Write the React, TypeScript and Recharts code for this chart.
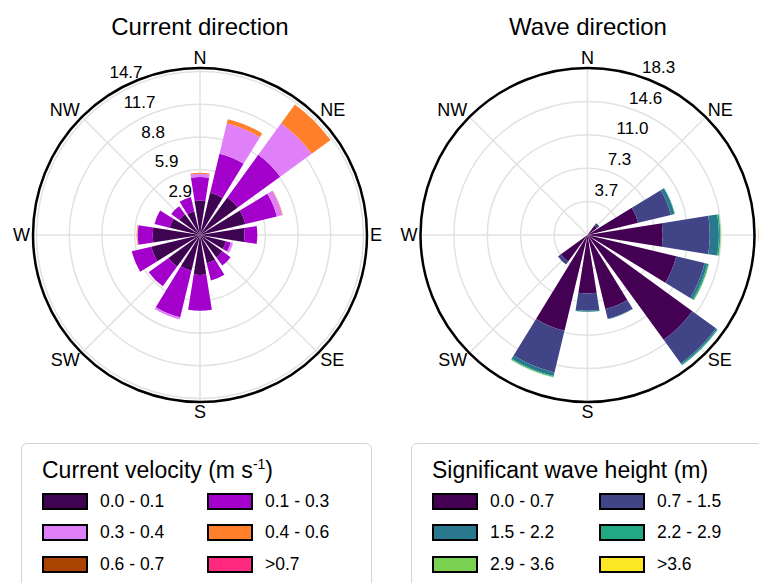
import React from 'react';
import { RadialBarChart, RadialBar, PolarAngleAxis, PolarRadiusAxis, PolarGrid } from 'recharts';

const directions = ['N', 'NNE', 'NE', 'ENE', 'E', 'ESE', 'SE', 'SSE', 'S', 'SSW', 'SW', 'WSW', 'W', 'WNW', 'NW', 'NNW'];
const compassLabels = ['N', 'NE', 'E', 'SE', 'S', 'SW', 'W', 'NW'];

// Current direction, frequency (%) per velocity bin
const currentBins = ['0.0 - 0.1', '0.1 - 0.3', '0.3 - 0.4', '0.4 - 0.6', '0.6 - 0.7', '>0.7'];
const currentColors = ['#3f0451', '#a300cc', '#e080f8', '#ff7f2a', '#a84400', '#ff2a7f'];
const current0 = [3.1, 3.9, 4.2, 4.2, 4.0, 2.4, 2.5, 2.6, 3.6, 3.3, 3.5, 4.5, 4.25, 2.8, 2.3, 2.2];
const current1 = [2.1, 3.6, 4.7, 2.9, 1.15, 0.45, 0.9, 1.6, 3.2, 4.3, 2.2, 1.8, 1.35, 1.4, 0.9, 1.3];
const current2 = [0.3, 2.8, 3.5, 0.5, 0, 0.2, 0, 0, 0, 0.2, 0, 0, 0.05, 0, 0, 0];
const current3 = [0.1, 0.4, 2.1, 0.05, 0, 0, 0, 0, 0, 0, 0, 0, 0.05, 0, 0, 0];
const current4 = [0, 0, 0, 0, 0, 0, 0, 0, 0, 0, 0, 0, 0, 0, 0, 0];
const current5 = [0, 0, 0, 0, 0, 0, 0, 0, 0, 0, 0, 0, 0, 0, 0, 0];
const currentTicks = [2.94, 5.87, 8.81, 11.74, 14.68];

// Wave direction, frequency (%) per significant wave height bin
const waveBins = ['0.0 - 0.7', '0.7 - 1.5', '1.5 - 2.2', '2.2 - 2.9', '2.9 - 3.6', '>3.6'];
const waveColors = ['#440154', '#414487', '#2a788e', '#22a884', '#7ad151', '#fde725'];
const wave0 = [0, 0, 1.3, 5.7, 8.25, 10.0, 14.2, 8.35, 6.4, 10.8, 3.6, 0, 0, 0, 0, 0];
const wave1 = [0, 0, 0.3, 3.7, 5.15, 3.2, 3.2, 1.1, 1.9, 4.7, 0.4, 0, 0, 0, 0, 0];
const wave2 = [0, 0, 0, 0.4, 1.0, 0.3, 0.15, 0.05, 0.1, 0.4, 0, 0, 0, 0, 0, 0];
const wave3 = [0, 0, 0, 0.05, 0.15, 0.15, 0.1, 0, 0.02, 0.1, 0, 0, 0, 0, 0, 0];
const wave4 = [0, 0, 0, 0, 0.05, 0.05, 0, 0, 0, 0.05, 0, 0, 0, 0, 0, 0];
const wave5 = [0, 0, 0, 0, 0, 0, 0, 0, 0, 0, 0, 0, 0, 0, 0, 0];
const waveTicks = [3.66, 7.32, 10.98, 14.64, 18.3];

const FONT = '"Liberation Sans", Arial, Helvetica, sans-serif';
const R = 167;

const currentData = directions.map((dir, i) => ({
  dir,
  b0: current0[i], b1: current1[i], b2: current2[i], b3: current3[i], b4: current4[i], b5: current5[i],
}));
const waveData = directions.map((dir, i) => ({
  dir,
  b0: wave0[i], b1: wave1[i], b2: wave2[i], b3: wave3[i], b4: wave4[i], b5: wave5[i],
}));

// grid spokes only on the 8 main directions
const spokeAngles = compassLabels.map((_, i) => 90 - 45 * i);

function makeAngleTick(cx: number, cy: number) {
  return (props: any) => {
    const label = props.payload?.value;
    if (!compassLabels.includes(label)) return <g />;
    const idx = directions.indexOf(label);
    const a = ((90 - 22.5 * idx) * Math.PI) / 180;
    const cos = Math.cos(a);
    const sin = Math.sin(a);
    const x = cx + (R + 3) * cos;
    const y = cy - (R + 3) * sin - sin * 7;
    const anchor = Math.abs(cos) < 1e-3 ? 'middle' : cos > 0 ? 'start' : 'end';
    return (
      <text x={x} y={y} textAnchor={anchor} dominantBaseline="central" fontSize={18} fontFamily={FONT} fill="#000">
        {label}
      </text>
    );
  };
}

function makeRadiusTick(angle: number, off: number) {
  return (props: any) => {
    const a = (angle * Math.PI) / 180;
    return (
      <text
        x={props.x + off * Math.cos(a)}
        y={props.y - off * Math.sin(a)}
        textAnchor="middle"
        dominantBaseline="central"
        fontSize={17}
        fontFamily={FONT}
        fill="#000"
      >
        {Number(props.payload.value).toFixed(1)}
      </text>
    );
  };
}

function Rose({ data, colors, ticks, cx, cy, width, labelAngle }: any) {
  return (
    <RadialBarChart
      width={width}
      height={430}
      cx={cx}
      cy={cy}
      innerRadius={0}
      outerRadius={R}
      data={data}
      layout="centric"
      startAngle={78.75}
      endAngle={-281.25}
      barCategoryGap="10%"
    >
      <PolarGrid gridType="circle" stroke="#e2e2e2" strokeWidth={1.5} polarAngles={spokeAngles} />
      {colors.map((c: string, i: number) => (
        <RadialBar key={i} dataKey={`b${i}`} stackId="s" fill={c} stroke="none" isAnimationActive={false} />
      ))}
      <PolarAngleAxis
        dataKey="dir"
        type="category"
        axisLineType="circle"
        axisLine={{ stroke: '#000', strokeWidth: 2.5 }}
        tickLine={false}
        tick={makeAngleTick(cx, cy)}
      />
      <PolarRadiusAxis
        type="number"
        domain={[0, ticks[ticks.length - 1]]}
        ticks={ticks}
        angle={labelAngle}
        axisLine={false}
        tickLine={false}
        tick={makeRadiusTick(labelAngle, 15)}
      />
    </RadialBarChart>
  );
}

function LegendBox({ title, bins, colors, left, cols }: any) {
  const rows = [501, 532.5, 564];
  return (
    <div
      style={{
        position: 'absolute',
        left,
        top: 443,
        width: 351,
        height: 170,
        border: '1.5px solid #d4d4d4',
        borderRadius: 6,
        boxSizing: 'border-box',
      }}
    >
      <div style={{ position: 'absolute', left: cols[0] - left - 2, top: 15, fontSize: 23, lineHeight: '23px', whiteSpace: 'nowrap' }}>
        {title}
      </div>
      {bins.map((b: string, i: number) => {
        const col = i % 2;
        const row = Math.floor(i / 2);
        return (
          <div
            key={b}
            style={{
              position: 'absolute',
              left: cols[col] - left - 2,
              top: rows[row] - 443 - 11,
              height: 20,
              display: 'flex',
              alignItems: 'center',
              whiteSpace: 'nowrap',
            }}
          >
            <div style={{ width: 46, height: 17, background: colors[i], border: '2px solid #000', boxSizing: 'border-box' }} />
            <span style={{ marginLeft: 12, fontSize: 17.5 }}>{b}</span>
          </div>
        );
      })}
    </div>
  );
}

export default function App() {
  return (
    <div
      style={{
        position: 'absolute',
        left: 0,
        top: 0,
        width: 759,
        height: 583,
        overflow: 'hidden',
        background: '#fff',
        fontFamily: FONT,
        color: '#000',
      }}
    >
      <div style={{ position: 'absolute', left: 0, width: 400, top: 15, textAlign: 'center', fontSize: 24, lineHeight: '24px' }}>
        Current direction
      </div>
      <div style={{ position: 'absolute', left: 388, width: 400, top: 15, textAlign: 'center', fontSize: 24, lineHeight: '24px' }}>
        Wave direction
      </div>
      <div style={{ position: 'absolute', left: 0, top: 0 }}>
        <Rose data={currentData} colors={currentColors} ticks={currentTicks} cx={200} cy={235} width={390} labelAngle={114.5} />
      </div>
      <div style={{ position: 'absolute', left: 390, top: 0 }}>
        <Rose data={waveData} colors={waveColors} ticks={waveTicks} cx={197.5} cy={235} width={369} labelAngle={67} />
      </div>
      <LegendBox
        title={<span>Current velocity (m s<sup style={{ fontSize: 14, verticalAlign: '9px', lineHeight: 0 }}>-1</sup>)</span>}
        bins={currentBins}
        colors={currentColors}
        left={21}
        cols={[43, 208]}
      />
      <LegendBox title="Significant wave height (m)" bins={waveBins} colors={waveColors} left={411} cols={[433, 600]} />
    </div>
  );
}
